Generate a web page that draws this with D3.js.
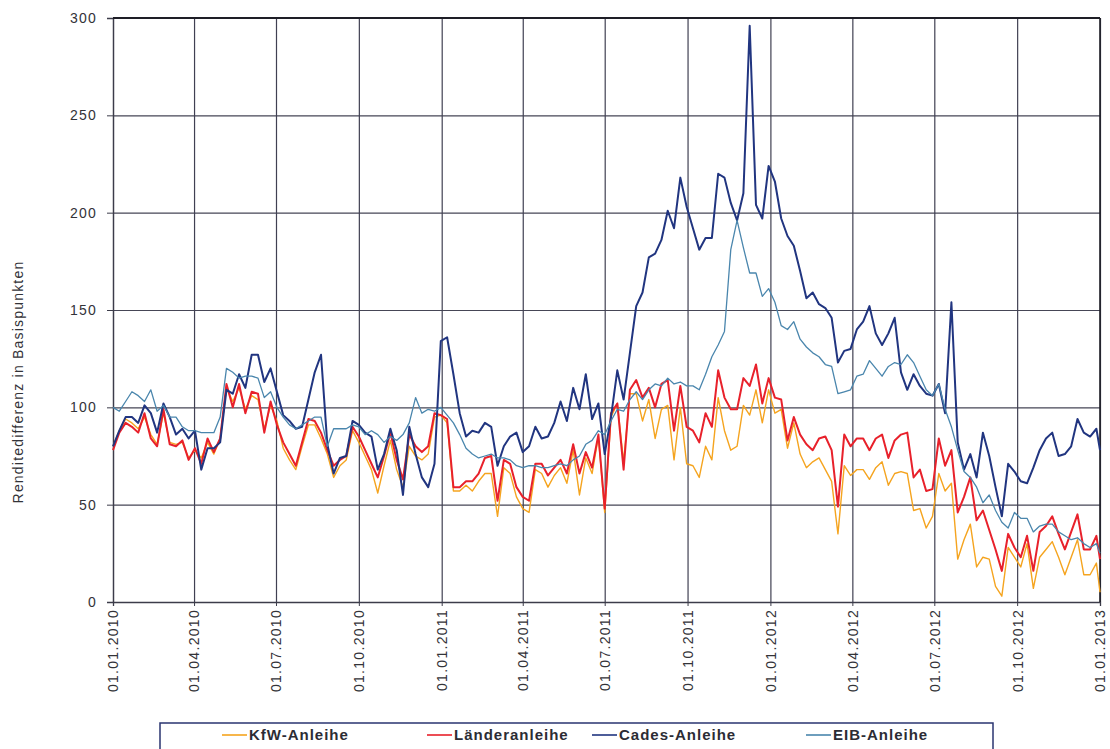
<!DOCTYPE html>
<html>
<head>
<meta charset="utf-8">
<script src="https://cdn.jsdelivr.net/npm/d3@7"></script>
<style>
  html, body { margin: 0; padding: 0; background: #ffffff; }
  svg { display: block; }
</style>
</head>
<body>
<svg id="chart" width="1110" height="749"></svg>
<script>
// Weekly yield spreads (basis points), Friday observations from 01.01.2010,
// closing with a final observation on 01.01.2013.
const kfw = [
  80, 88, 94, 92, 89, 95, 86, 81, 97, 82, 81, 82, 74, 78, 74, 82, 76, 84, 110, 103, 110, 99, 106, 104, 89, 101, 93,
  79, 73, 68, 80, 91, 91, 84, 76, 64, 70, 73, 88, 82, 75, 68, 56, 70, 83, 68, 59, 80, 75, 73, 76, 95, 96, 92,
  57, 57, 60, 57, 62, 66, 66, 44, 69, 66, 54, 48, 46, 68, 66, 59, 65, 69, 61, 78, 55, 74, 66, 85, 46,
  95, 102, 72, 107, 107, 93, 104, 84, 99, 101, 73, 100, 71, 70, 64, 80, 73, 105, 88, 78, 80, 101, 96, 109, 92, 109, 97,
  99, 79, 92, 76, 69, 72, 74, 68, 62, 35, 70, 65, 68, 68, 63, 69, 72, 60, 66, 67, 66, 47, 48, 38, 44, 66,
  57, 61, 22, 32, 40, 18, 23, 22, 8, 3, 28, 23, 18, 30, 7, 23, 27, 31, 23, 14, 23, 32, 14, 14, 20,
  5
];
const laender = [
  78, 87, 92, 90, 87, 97, 84, 80, 99, 81, 80, 83, 73, 79, 71, 84, 77, 84, 112, 100, 112, 97, 108, 107, 87, 103, 91,
  82, 76, 70, 82, 94, 93, 87, 78, 70, 73, 75, 90, 85, 78, 71, 64, 75, 87, 73, 63, 86, 80, 77, 80, 97, 96, 94,
  59, 59, 62, 62, 66, 74, 75, 52, 73, 71, 59, 54, 52, 71, 71, 65, 69, 73, 66, 81, 66, 77, 69, 86, 48,
  97, 102, 68, 109, 114, 105, 110, 100, 112, 114, 88, 111, 90, 88, 82, 97, 90, 119, 105, 99, 99, 115, 111, 122, 102, 115, 105,
  104, 83, 95, 86, 81, 78, 84, 85, 78, 49, 86, 80, 84, 84, 78, 84, 86, 74, 83, 86, 87, 64, 68, 57, 58, 84,
  70, 78, 46, 54, 64, 42, 47, 37, 27, 16, 35, 28, 23, 34, 16, 36, 39, 44, 35, 27, 36, 45, 27, 27, 34,
  22
];
const cades = [
  80, 88, 95, 95, 92, 101, 97, 87, 102, 95, 86, 89, 84, 88, 68, 79, 79, 82, 109, 107, 117, 110, 127, 127, 113, 120, 108,
  96, 93, 89, 90, 104, 118, 127, 81, 66, 74, 75, 93, 91, 87, 85, 68, 76, 89, 78, 55, 90, 76, 64, 59, 71, 134, 136,
  117, 97, 85, 88, 87, 92, 90, 70, 80, 85, 87, 77, 80, 90, 84, 85, 92, 103, 93, 110, 99, 117, 94, 102, 76,
  95, 119, 104, 128, 152, 159, 177, 179, 186, 201, 192, 218, 203, 192, 181, 187, 187, 220, 218, 205, 196, 210, 296, 204, 197, 224, 216,
  197, 188, 183, 170, 156, 159, 153, 151, 146, 123, 129, 130, 140, 144, 152, 138, 132, 138, 146, 118, 109, 117, 111, 107, 106, 112,
  97, 154, 82, 68, 76, 64, 87, 75, 59, 44, 71, 67, 62, 61, 69, 78, 84, 87, 75, 76, 80, 94, 87, 85, 89,
  78
];
const eib = [
  100, 98, 103, 108, 106, 103, 109, 98, 101, 95, 95, 90, 88, 88, 87, 87, 87, 95, 120, 118, 115, 116, 116, 115, 105, 108, 100,
  95, 91, 89, 91, 93, 95, 95, 80, 89, 89, 89, 91, 90, 86, 88, 86, 82, 85, 83, 86, 92, 105, 97, 99, 98, 100, 96,
  92, 86, 79, 76, 74, 75, 76, 74, 74, 73, 70, 69, 70, 70, 69, 69, 70, 71, 70, 73, 75, 81, 83, 88, 86,
  93, 99, 98, 104, 108, 104, 109, 112, 111, 115, 112, 113, 111, 111, 109, 117, 126, 132, 139, 181, 196, 182, 169, 169, 157, 161, 154,
  142, 140, 144, 135, 131, 128, 126, 122, 121, 107, 108, 109, 116, 117, 124, 120, 116, 121, 123, 122, 127, 123, 116, 109, 106, 112,
  99, 90, 78, 67, 64, 59, 51, 55, 47, 41, 38, 46, 43, 43, 36, 39, 40, 40, 36, 34, 32, 33, 30, 28, 30,
  25
];

const seriesNames = ["KfW-Anleihe", "Länderanleihe", "Cades-Anleihe", "EIB-Anleihe"];
const seriesColors = ["#f5a41f", "#e8212b", "#213580", "#4a86ad"];
const seriesWidths = [1.4, 2, 2, 1.3];
const yTickValues = [0, 50, 100, 150, 200, 250, 300];
const yTitle = "Renditedifferenz in Basispunkten";

// Observation dates: weekly Fridays, then the final New Year's value.
const firstDate = new Date(2010, 0, 1);
const endDate = new Date(2013, 0, 1);
const dates = kfw.map((_, i) => i < kfw.length - 1 ? d3.timeDay.offset(firstDate, 7 * i) : endDate);

const plot = { left: 113, right: 1100, top: 18, bottom: 602 };

const svg = d3.select("#chart");

const x = d3.scaleTime().domain([firstDate, endDate]).range([plot.left, plot.right]);
const y = d3.scaleLinear().domain([0, 300]).range([plot.bottom, plot.top]);

const quarterTicks = d3.timeMonth.every(3).range(firstDate, d3.timeDay.offset(endDate, 1));
const fmt = d3.timeFormat("%d.%m.%Y");
const labelFont = "'Liberation Sans', Arial, sans-serif";

// Horizontal gridlines
svg.append("g")
  .attr("transform", `translate(${plot.left},0)`)
  .call(d3.axisLeft(y).tickValues(yTickValues).tickSize(-(plot.right - plot.left)).tickFormat(""))
  .call(g => g.select(".domain").remove())
  .call(g => g.selectAll("line").attr("stroke", "#464656").attr("stroke-width", 1.2));

// Vertical gridlines at quarter starts
svg.append("g")
  .attr("transform", `translate(0,${plot.bottom})`)
  .call(d3.axisBottom(x).tickValues(quarterTicks).tickSize(-(plot.bottom - plot.top)).tickFormat(""))
  .call(g => g.select(".domain").remove())
  .call(g => g.selectAll("line").attr("stroke", "#404052").attr("stroke-width", 1.2));

// Y axis with labels
const yAxis = svg.append("g")
  .attr("transform", `translate(${plot.left},0)`)
  .call(d3.axisLeft(y).tickValues(yTickValues).tickSize(6).tickPadding(10));
yAxis.select(".domain").attr("stroke", "#3c3c4a").attr("stroke-width", 1.3);
yAxis.selectAll("line").attr("stroke", "#3c3c4a");
yAxis.selectAll("text")
  .attr("fill", "#333338")
  .style("font-family", labelFont)
  .style("font-size", "14px")
  .style("letter-spacing", "1.2px");

// X axis with rotated date labels
const xAxis = svg.append("g")
  .attr("transform", `translate(0,${plot.bottom})`)
  .call(d3.axisBottom(x).tickValues(quarterTicks).tickSize(4).tickFormat(fmt));
xAxis.select(".domain").attr("stroke", "#3c3c4a").attr("stroke-width", 1.3);
xAxis.selectAll("line").attr("stroke", "#3c3c4a");
xAxis.selectAll("text")
  .attr("transform", "rotate(-90)")
  .attr("x", -7)
  .attr("y", 0)
  .attr("dy", "0.35em")
  .attr("text-anchor", "end")
  .attr("fill", "#333338")
  .style("font-family", labelFont)
  .style("font-size", "14px")
  .style("letter-spacing", "1.3px");

// Frame: top and right edges of the plot area
svg.append("line")
  .attr("x1", plot.left).attr("x2", plot.right)
  .attr("y1", plot.top).attr("y2", plot.top)
  .attr("stroke", "#1e1e26").attr("stroke-width", 2);
svg.append("line")
  .attr("x1", plot.right).attr("x2", plot.right)
  .attr("y1", plot.top).attr("y2", plot.bottom)
  .attr("stroke", "#1e1e26").attr("stroke-width", 1.6);

// Series lines
const allSeries = [kfw, laender, cades, eib];
const line = d3.line()
  .x((d, i) => x(dates[i]))
  .y(d => y(d));

svg.append("g")
  .selectAll("path")
  .data(allSeries)
  .join("path")
  .attr("d", d => line(d))
  .attr("fill", "none")
  .attr("stroke", (d, i) => seriesColors[i])
  .attr("stroke-width", (d, i) => seriesWidths[i])
  .attr("stroke-linejoin", "round");

// Y axis title
svg.append("text")
  .attr("transform", "translate(18,382) rotate(-90)")
  .attr("text-anchor", "middle")
  .attr("dy", "0.35em")
  .attr("fill", "#333338")
  .style("font-family", labelFont)
  .style("font-size", "14px")
  .style("letter-spacing", "1.2px")
  .text(yTitle);

// Legend
const legend = svg.append("g");
legend.append("rect")
  .attr("x", 160).attr("y", 723)
  .attr("width", 833).attr("height", 40)
  .attr("fill", "#ffffff")
  .attr("stroke", "#2a3470").attr("stroke-width", 1.5);

const legendX = [222, 427, 592, 806];
const items = legend.selectAll("g.item")
  .data(seriesNames)
  .join("g")
  .attr("class", "item")
  .attr("transform", (d, i) => `translate(${legendX[i]},735)`);
items.append("line")
  .attr("x1", 0).attr("x2", 25)
  .attr("stroke", (d, i) => seriesColors[i])
  .attr("stroke-width", 1.6);
items.append("text")
  .attr("x", 27)
  .attr("dy", "0.35em")
  .attr("fill", "#2c2c34")
  .style("font-family", labelFont)
  .style("font-weight", "bold")
  .style("font-size", "15px")
  .style("letter-spacing", "1px")
  .text(d => d);
</script>
</body>
</html>
